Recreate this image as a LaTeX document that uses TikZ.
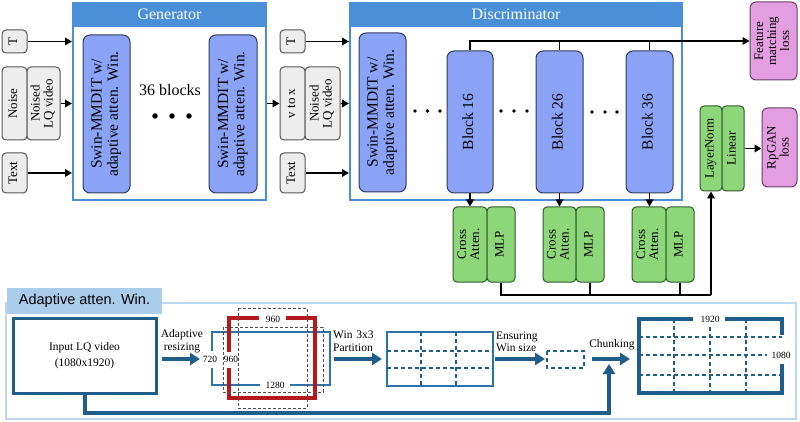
\documentclass[tikz,border=0pt]{standalone}
\usepackage{fontspec}
\setmainfont{Liberation Serif}
\newfontfamily\sansf{Liberation Sans}
\usetikzlibrary{arrows.meta}
\definecolor{hdr}{HTML}{4A90D9}
\definecolor{blkfill}{HTML}{8AA3F6}
\definecolor{blkborder}{HTML}{2F3B5C}
\definecolor{grnfill}{HTML}{8ED67A}
\definecolor{grnborder}{HTML}{2E5B2A}
\definecolor{pnkfill}{HTML}{E39DE1}
\definecolor{pnkborder}{HTML}{6B3D6B}
\definecolor{infill}{HTML}{EDEDED}
\definecolor{inborder}{HTML}{555555}
\definecolor{dblue}{HTML}{1F5E8A}
\definecolor{mblue}{HTML}{2E72AD}
\definecolor{plight}{HTML}{BDD7EE}
\definecolor{phdr}{HTML}{A9CDEB}
\definecolor{dred}{HTML}{B5191E}
\definecolor{dgray}{HTML}{505050}
\newcommand{\rtext}[1]{\rotatebox{90}{\begin{tabular}{@{}c@{}}#1\end{tabular}}}
\renewcommand{\arraystretch}{0.9}
\begin{document}
\begin{tikzpicture}[x=1pt,y=-1pt,
  inbox/.style={draw=inborder, fill=infill, line width=1pt, rounded corners=4pt, inner sep=0pt, font=\fontsize{13}{14.5}\selectfont},
  blk/.style={draw=blkborder, fill=blkfill, line width=1pt, rounded corners=7pt, inner sep=0pt, font=\fontsize{15.5}{18}\selectfont},
  grn/.style={draw=grnborder, fill=grnfill, line width=1pt, rounded corners=4pt, inner sep=0pt, font=\fontsize{13}{14.5}\selectfont},
  pnk/.style={draw=pnkborder, fill=pnkfill, line width=1pt, rounded corners=6pt, inner sep=0pt, font=\fontsize{13}{14.5}\selectfont},
  frame/.style={draw=hdr, fill=white, line width=2pt, inner sep=0pt},
  hdrbox/.style={fill=hdr, text=white, inner sep=0pt, font=\fontsize{16}{18}\selectfont},
  conn/.style={line width=1.8pt, black},
  arr/.style={conn, -{Triangle[length=7pt,width=7.5pt]}},
  barr/.style={line width=4pt, dblue, -{Triangle[length=10pt,width=12pt]}},
  bigdot/.style={circle, fill=black, inner sep=0pt, minimum size=5.5pt},
  smdot/.style={circle, fill=black, inner sep=0pt, minimum size=3.8pt},
  lbl/.style={font=\fontsize{11.5}{12.5}\selectfont, inner sep=0pt, align=center},
  dimlbl/.style={font=\fontsize{9.5}{11}\selectfont, inner sep=0pt},
  gdash/.style={dgray, line width=1pt, dash pattern=on 3pt off 2pt},
  bdash/.style={dblue, line width=1.2pt, dash pattern=on 4pt off 3pt}
]
\useasboundingbox (0,0) rectangle (800,422);
\fill[white] (0,0) rectangle (800,422);

% ---------------- Generator ----------------
\node[frame, minimum width=193, minimum height=197] (gen) at (169.5,101.5) {};
\node[hdrbox, minimum width=193, minimum height=25, anchor=north] (genh) at (gen.north) {Generator};
\node[blk, minimum width=47, minimum height=158] (g1) at (106.5,114) {\rtext{Swin-MMDIT w/\\adaptive atten. Win.}};
\node[blk, minimum width=48, minimum height=158] (g2) at (233,114) {\rtext{Swin-MMDIT w/\\adaptive atten. Win.}};
\node[font=\fontsize{16}{18}\selectfont, inner sep=0pt] (gtxt) at (170,90) {36 blocks};
\node[bigdot] (gd1) at (155,116) {};
\node[bigdot] (gd2) at (172,116) {};
\node[bigdot] (gd3) at (189,116) {};

% generator inputs
\node[inbox, minimum width=25, minimum height=23] (t1) at (14.5,41.5) {\rtext{T}};
\node[inbox, minimum width=25, minimum height=73] (n1) at (14.5,103.5) {\rtext{Noise}};
\node[inbox, minimum width=33, minimum height=73] (q1) at (43.5,103.5) {\rtext{Noised\\LQ video}};
\node[inbox, minimum width=25, minimum height=40] (x1) at (14.5,173) {\rtext{Text}};
\draw[arr] (t1.east) -- (t1.east -| gen.west);
\draw[arr] (q1.east) -- (q1.east -| gen.west);
\draw[arr] (x1.east) -- (x1.east -| gen.west);

% ---------------- Discriminator ----------------
\node[frame, minimum width=332, minimum height=197] (dis) at (516,101.5) {};
\node[hdrbox, minimum width=332, minimum height=25, anchor=north] (dish) at (dis.north) {Discriminator};
\node[blk, minimum width=47, minimum height=159] (d0) at (382.5,112.5) {\rtext{Swin-MMDIT w/\\adaptive atten. Win.}};
\node[blk, minimum width=46, minimum height=142] (b16) at (470,122) {\rtext{Block 16}};
\node[blk, minimum width=47, minimum height=142] (b26) at (559.5,122) {\rtext{Block 26}};
\node[blk, minimum width=47, minimum height=142] (b36) at (649.5,122) {\rtext{Block 36}};
\node[smdot] (dd1) at (415,111) {};
\node[smdot] (dd2) at (427.5,111) {};
\node[smdot] (dd3) at (440,111) {};
\node[smdot] (dd4) at (501,111) {};
\node[smdot] (dd5) at (514,111) {};
\node[smdot] (dd6) at (527,111) {};
\node[smdot] (dd7) at (592,112) {};
\node[smdot] (dd8) at (605,112) {};
\node[smdot] (dd9) at (617,112) {};

% discriminator inputs
\node[inbox, minimum width=25, minimum height=23] (t2) at (292.5,41.5) {\rtext{T}};
\node[inbox, minimum width=25, minimum height=73] (v2) at (292.5,103.5) {\rtext{v to x}};
\node[inbox, minimum width=35, minimum height=73] (q2) at (322.5,103.5) {\rtext{Noised\\LQ video}};
\node[inbox, minimum width=25, minimum height=40] (x2) at (292.5,173) {\rtext{Text}};
\draw[arr] (t2.east) -- (t2.east -| dis.west);
\draw[arr] (q2.east) -- (q2.east -| dis.west);
\draw[arr] (x2.east) -- (x2.east -| dis.west);
\draw[arr] (gen.east |- v2.west) -- (v2.west);

% cross attention / MLP
\node[grn, minimum width=34, minimum height=75] (c1) at (470,244.5) {\rtext{Cross\\Atten.}};
\node[grn, minimum width=28, minimum height=75] (m1) at (501,244.5) {\rtext{MLP}};
\node[grn, minimum width=33, minimum height=75] (c2) at (559.5,244.5) {\rtext{Cross\\Atten.}};
\node[grn, minimum width=28, minimum height=75] (m2) at (590,244.5) {\rtext{MLP}};
\node[grn, minimum width=34, minimum height=75] (c3) at (649,244.5) {\rtext{Cross\\Atten.}};
\node[grn, minimum width=28, minimum height=75] (m3) at (680,244.5) {\rtext{MLP}};
\draw[arr] (b16.south) -- (b16.south |- c1.north);
\draw[arr] (b26.south) -- (b26.south |- c2.north);
\draw[arr] (b36.south) -- (b36.south |- c3.north);

% head
\node[grn, minimum width=22, minimum height=85] (ln) at (711,148.5) {\rtext{LayerNorm}};
\node[grn, minimum width=22, minimum height=85] (lin) at (733,148.5) {\rtext{Linear}};
\node[pnk, minimum width=35, minimum height=79] (rp) at (779.5,147.5) {\rtext{RpGAN\\loss}};
\node[pnk, minimum width=47, minimum height=78] (fm) at (773.5,41) {\rtext{Feature\\matching\\loss}};
\draw[arr] (lin.east) -- (lin.east -| rp.west);

\coordinate (jn) at (711,295);
\draw[conn] (m1.south) |- (jn);
\draw[conn] (m2.south) -- (m2.south |- jn);
\draw[conn] (m3.south) -- (m3.south |- jn);
\draw[arr] (jn) -- (ln.south);

\draw[arr] (b16.north) |- (fm.west);
\draw[conn] (b26.north) -- (b26.north |- fm.west);
\draw[conn] (b36.north) -- (b36.north |- fm.west);

% ---------------- Adaptive atten. Win. panel ----------------
\node[draw=plight, line width=2pt, minimum width=790, minimum height=116, inner sep=0pt] (panel) at (400.5,361) {};
\node[fill=phdr, minimum width=155, minimum height=26, inner sep=0pt, font=\sansf\fontsize{14.5}{16}\selectfont] (ph) at (84.5,301) {Adaptive atten. Win.};

\node[draw=dblue, line width=3pt, minimum width=143, minimum height=75, inner sep=0pt, align=center, font=\fontsize{11.5}{15.5}\selectfont] (inp) at (84.5,355.5) {Input LQ video\\(1080x1920)};

% resizing
\coordinate (r1) at (162,359);
\coordinate (r2) at (200,359);
\draw[barr] (r1) -- (r2);
\node[lbl] (rl) at (182,341) {Adaptive\\resizing};

% blue 720x1280 rect
\draw[mblue, line width=1.8pt] (212,351) -- (212,332) -- (330,332) -- (330,385) -- (290,385);
\draw[mblue, line width=1.8pt] (260,385) -- (212,385) -- (212,368);
% red 960x960 rect
\draw[dred, line width=3.5pt] (229,352) -- (229,318) -- (259,318);
\draw[dred, line width=3.5pt] (286,318) -- (315,318) -- (315,398) -- (229,398) -- (229,368);
% dashed gray
\draw[gdash] (223,327) rectangle (323,392);
\draw[gdash] (238,308) rectangle (307,408);
\node[dimlbl] (l720) at (210,359) {720};
\node[dimlbl] (l960a) at (231,359) {960};
\node[dimlbl] (l960b) at (273,319) {960};
\node[dimlbl] (l1280) at (275,385) {1280};

% partition
\coordinate (p1) at (334,359);
\coordinate (p2) at (382,359);
\draw[barr] (p1) -- (p2);
\node[lbl, align=left, anchor=west] (pl) at (333,341) {Win\,\,3x3\\Partition};

\draw[mblue, line width=1.8pt] (387,332) rectangle (493,386);
\draw[bdash] (421,332) -- (421,386);
\draw[bdash] (456,332) -- (456,386);
\draw[bdash] (387,351) -- (493,351);
\draw[bdash] (387,368) -- (493,368);

% ensuring
\coordinate (e1) at (495,359);
\coordinate (e2) at (545,359);
\draw[barr] (e1) -- (e2);
\node[lbl, align=left, anchor=west] (el) at (496,342) {Ensuring\\Win size};
\draw[dblue, line width=1.3pt, dash pattern=on 4pt off 3pt] (547,351) rectangle (584,368);

% chunking
\coordinate (k1) at (592,359);
\coordinate (k2) at (630,359);
\draw[barr] (k1) -- (k2);
\node[lbl] (kl) at (612,345) {Chunking};

% bottom feed path
\coordinate (cj) at (609,364);
\draw[barr] (inp.south) -- (84.5,413) -| (cj);

% big rect 1080x1920
\draw[bdash] (674,319) -- (674,393);
\draw[bdash] (710,327) -- (710,393);
\draw[bdash] (746,319) -- (746,393);
\draw[bdash] (639,337) -- (782,337);
\draw[bdash] (639,355) -- (767,355);
\draw[bdash] (639,375) -- (782,375);
\draw[dblue, line width=3.5pt] (693,319) -- (639,319) -- (639,393) -- (782,393) -- (782,364);
\draw[dblue, line width=3.5pt] (725,319) -- (782,319) -- (782,335);
\node[dimlbl] (l1920) at (710,319) {1920};
\node[dimlbl] (l1080) at (781,355) {1080};
\end{tikzpicture}
\end{document}
